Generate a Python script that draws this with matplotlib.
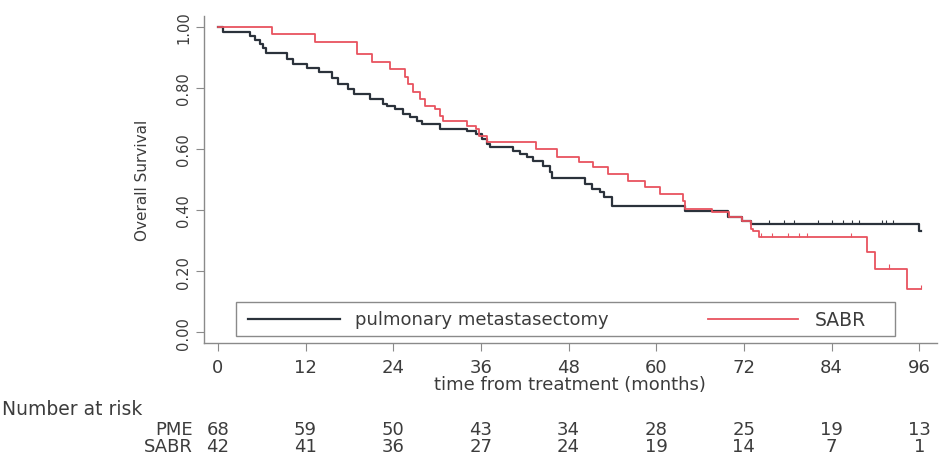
import numpy as np
import matplotlib
matplotlib.use("Agg")
import matplotlib.pyplot as plt
import matplotlib.transforms as mtransforms
from matplotlib.patches import Rectangle

# Kaplan-Meier steps (months, survival)
pme_t = [0, 0.7, 4.4, 5.1, 5.7, 6.2, 6.6, 9.4, 10.3, 12.2,
         13.9, 15.6, 16.4, 17.8, 18.7, 20.8, 22.6, 23.1, 24.2, 25.3,
         26.3, 27.2, 28.0, 30.4, 34.1, 35.4, 36.1, 36.8, 37.2, 40.4,
         41.3, 42.3, 43.1, 44.5, 45.4, 45.8, 50.2, 51.2, 52.3, 52.9,
         54.0, 63.9, 69.8, 71.8, 73.0, 96.0]
pme_s = [1.0, 0.984, 0.970, 0.957, 0.944, 0.930, 0.915, 0.895, 0.879, 0.866,
         0.852, 0.833, 0.813, 0.797, 0.780, 0.764, 0.748, 0.741, 0.731, 0.715,
         0.705, 0.692, 0.682, 0.666, 0.659, 0.649, 0.633, 0.616, 0.607, 0.593,
         0.584, 0.574, 0.561, 0.544, 0.525, 0.505, 0.485, 0.469, 0.459, 0.443,
         0.413, 0.397, 0.377, 0.364, 0.354, 0.331]
pme_end = 96.2
pme_cens = [75.5, 77.5, 78.9, 82.1, 84.1, 85.6, 86.8, 87.7, 90.9, 91.5, 92.4]

sabr_t = [0, 7.4, 13.3, 19.0, 21.1, 23.5, 25.6, 26.0, 26.7, 27.6,
          28.3, 29.7, 30.4, 30.8, 34.1, 35.4, 35.8, 36.8, 43.6, 46.4,
          49.5, 51.3, 53.4, 56.1, 58.4, 60.5, 63.6, 63.9, 67.7, 70.0,
          71.7, 73.0, 73.2, 74.1, 88.8, 89.9, 94.3]
sabr_s = [1.0, 0.976, 0.952, 0.911, 0.885, 0.862, 0.836, 0.813, 0.787, 0.764,
          0.741, 0.731, 0.708, 0.692, 0.675, 0.666, 0.643, 0.623, 0.600, 0.574,
          0.557, 0.541, 0.518, 0.495, 0.475, 0.452, 0.430, 0.403, 0.393, 0.377,
          0.364, 0.338, 0.331, 0.311, 0.262, 0.207, 0.141]
sabr_end = 96.3
sabr_cens = [74.4, 75.9, 78.0, 79.5, 80.6, 86.7, 91.9, 96.3]

risk_times = [0, 12, 24, 36, 48, 60, 72, 84, 96]
risk_pme = [68, 59, 50, 43, 34, 28, 25, 19, 13]
risk_sabr = [42, 41, 36, 27, 24, 19, 14, 7, 1]

black = "#2b323b"
red = "#e8535f"
grey = "#8a8a8a"
txt = "#3c3c3c"


def step_value(times, surv, t):
    i = np.searchsorted(times, t, side="right") - 1
    return surv[i]


fig = plt.figure(figsize=(9.51, 4.60), dpi=100)
ax = fig.add_axes([0.2145, 0.252, 0.7705, 0.711])

ax.plot(pme_t + [pme_end], pme_s + [pme_s[-1]], drawstyle="steps-post",
        color=black, lw=1.6)
ax.plot(sabr_t + [sabr_end], sabr_s + [sabr_s[-1]], drawstyle="steps-post",
        color=red, lw=1.3)

# censoring ticks
for c in pme_cens:
    s = step_value(pme_t, pme_s, c)
    ax.vlines(c, s, s + 0.015, color=black, lw=0.8)
for c in sabr_cens:
    s = step_value(sabr_t, sabr_s, c)
    ax.vlines(c, s, s + 0.015, color=red, lw=0.8)

ax.set_xlim(-1.9, 98.4)
ax.set_ylim(-0.036, 1.036)
ax.set_xticks(risk_times)
ax.set_yticks([0, 0.2, 0.4, 0.6, 0.8, 1.0])
ax.set_yticklabels(["0.00", "0.20", "0.40", "0.60", "0.80", "1.00"],
                   rotation=90, va="center", fontsize=10.5, color=txt)
ax.tick_params(axis="x", labelsize=13, colors=grey, labelcolor=txt, length=6, pad=5)
ax.tick_params(axis="y", colors=grey, labelcolor=txt, length=6, pad=3)
for side in ["top", "right"]:
    ax.spines[side].set_visible(False)
for side in ["left", "bottom"]:
    ax.spines[side].set_color(grey)
    ax.spines[side].set_linewidth(1.0)

ax.set_xlabel("time from treatment (months)", fontsize=13, color=txt, labelpad=-1)
ax.set_ylabel("Overall Survival", fontsize=11, color=txt, labelpad=19)

# legend box drawn in axes coordinates
ax.add_patch(Rectangle((0.0437, 0.0214), 0.899, 0.104, transform=ax.transAxes,
                       fill=False, edgecolor=grey, lw=1.0, clip_on=False))
ly = 0.0734
ax.plot([0.060, 0.1855], [ly, ly], transform=ax.transAxes, color=black, lw=1.6)
ax.text(0.206, ly, "pulmonary metastasectomy", transform=ax.transAxes,
        fontsize=13, color=txt, va="center")
ax.plot([0.6876, 0.8104], [ly, ly], transform=ax.transAxes, color=red, lw=1.3)
ax.text(0.8336, ly, "SABR", transform=ax.transAxes, fontsize=13.5,
        color=txt, va="center")

# number at risk table
tr = mtransforms.blended_transform_factory(ax.transData, fig.transFigure)
fig.text(0.002, 0.109, "Number at risk", fontsize=13.5, color=txt, va="center")
fig.text(0.203, 0.065, "PME", fontsize=13, color=txt, va="center", ha="right")
fig.text(0.203, 0.028, "SABR", fontsize=13, color=txt, va="center", ha="right")
for t, a, b in zip(risk_times, risk_pme, risk_sabr):
    ax.text(t, 0.065, str(a), transform=tr, fontsize=13, color=txt,
            ha="center", va="center")
    ax.text(t, 0.028, str(b), transform=tr, fontsize=13, color=txt,
            ha="center", va="center")

fig.savefig("out.png", dpi=100)
